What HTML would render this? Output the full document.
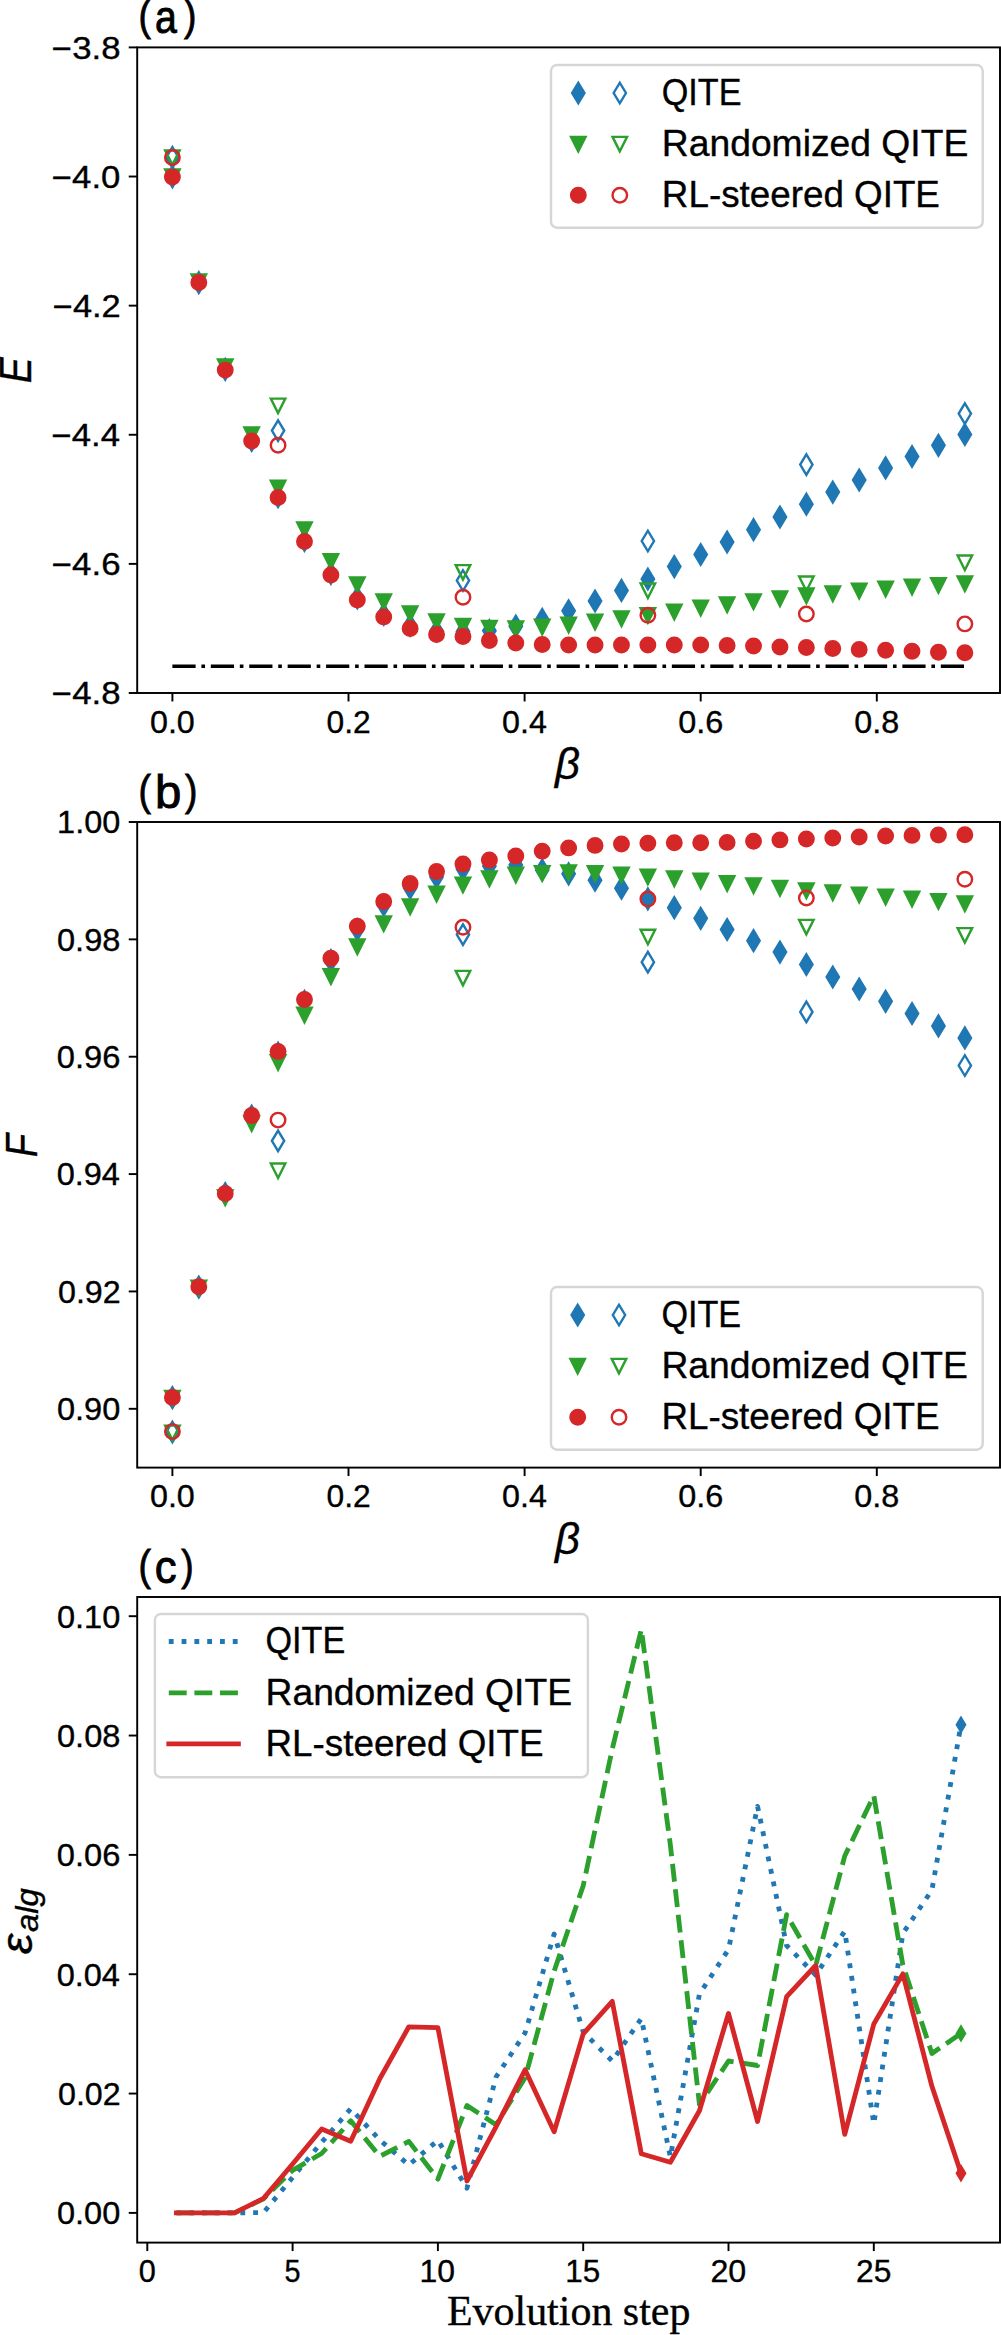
<!DOCTYPE html><html><head><meta charset="utf-8"><style>html,body{margin:0;padding:0;background:#fff;}svg{display:block;}</style></head><body>
<svg width="1001" height="2335" viewBox="0 0 1001 2335">
<style>text{stroke:#000;stroke-width:0.35px;}text.t{stroke-width:0.9px;}</style>
<rect width="1001" height="2335" fill="#fff"/>
<clipPath id="c0"><rect x="137.2" y="47.4" width="862.8" height="645.6"/></clipPath>
<clipPath id="c1"><rect x="137.2" y="822" width="862.8" height="645.6"/></clipPath>
<clipPath id="c2"><rect x="137.2" y="1597" width="862.8" height="645.6"/></clipPath>
<line x1="172.4" y1="666.2" x2="964.85" y2="666.2" stroke="#000" stroke-width="3.62" stroke-dasharray="23.2,5.8,3.62,5.8"/>
<g clip-path="url(#c0)">
<path d="M172.4 166.55L178.55 176.8L172.4 187.05L166.25 176.8Z" fill="#1f77b4" stroke="#1f77b4" stroke-width="2.42" stroke-linejoin="miter"/>
<path d="M198.81 272.35L204.97 282.6L198.81 292.85L192.66 282.6Z" fill="#1f77b4" stroke="#1f77b4" stroke-width="2.42" stroke-linejoin="miter"/>
<path d="M225.23 359.05L231.38 369.3L225.23 379.55L219.08 369.3Z" fill="#1f77b4" stroke="#1f77b4" stroke-width="2.42" stroke-linejoin="miter"/>
<path d="M251.64 430.15L257.8 440.4L251.64 450.65L245.49 440.4Z" fill="#1f77b4" stroke="#1f77b4" stroke-width="2.42" stroke-linejoin="miter"/>
<path d="M278.06 486.45L284.21 496.7L278.06 506.95L271.91 496.7Z" fill="#1f77b4" stroke="#1f77b4" stroke-width="2.42" stroke-linejoin="miter"/>
<path d="M304.48 530.25L310.63 540.5L304.48 550.75L298.32 540.5Z" fill="#1f77b4" stroke="#1f77b4" stroke-width="2.42" stroke-linejoin="miter"/>
<path d="M330.89 563.15L337.04 573.4L330.89 583.65L324.74 573.4Z" fill="#1f77b4" stroke="#1f77b4" stroke-width="2.42" stroke-linejoin="miter"/>
<path d="M357.31 587.55L363.46 597.8L357.31 608.05L351.15 597.8Z" fill="#1f77b4" stroke="#1f77b4" stroke-width="2.42" stroke-linejoin="miter"/>
<path d="M383.72 604.15L389.87 614.4L383.72 624.65L377.57 614.4Z" fill="#1f77b4" stroke="#1f77b4" stroke-width="2.42" stroke-linejoin="miter"/>
<path d="M410.13 615.15L416.29 625.4L410.13 635.65L403.98 625.4Z" fill="#1f77b4" stroke="#1f77b4" stroke-width="2.42" stroke-linejoin="miter"/>
<path d="M436.55 620.65L442.7 630.9L436.55 641.15L430.4 630.9Z" fill="#1f77b4" stroke="#1f77b4" stroke-width="2.42" stroke-linejoin="miter"/>
<path d="M462.97 621.25L469.12 631.5L462.97 641.75L456.81 631.5Z" fill="#1f77b4" stroke="#1f77b4" stroke-width="2.42" stroke-linejoin="miter"/>
<path d="M489.38 620.45L495.53 630.7L489.38 640.95L483.23 630.7Z" fill="#1f77b4" stroke="#1f77b4" stroke-width="2.42" stroke-linejoin="miter"/>
<path d="M515.8 615.95L521.95 626.2L515.8 636.45L509.64 626.2Z" fill="#1f77b4" stroke="#1f77b4" stroke-width="2.42" stroke-linejoin="miter"/>
<path d="M542.21 609.15L548.36 619.4L542.21 629.65L536.06 619.4Z" fill="#1f77b4" stroke="#1f77b4" stroke-width="2.42" stroke-linejoin="miter"/>
<path d="M568.62 600.55L574.78 610.8L568.62 621.05L562.47 610.8Z" fill="#1f77b4" stroke="#1f77b4" stroke-width="2.42" stroke-linejoin="miter"/>
<path d="M595.04 590.75L601.19 601L595.04 611.25L588.89 601Z" fill="#1f77b4" stroke="#1f77b4" stroke-width="2.42" stroke-linejoin="miter"/>
<path d="M621.46 580.15L627.61 590.4L621.46 600.65L615.3 590.4Z" fill="#1f77b4" stroke="#1f77b4" stroke-width="2.42" stroke-linejoin="miter"/>
<path d="M647.87 568.75L654.02 579L647.87 589.25L641.72 579Z" fill="#1f77b4" stroke="#1f77b4" stroke-width="2.42" stroke-linejoin="miter"/>
<path d="M674.28 556.35L680.44 566.6L674.28 576.85L668.13 566.6Z" fill="#1f77b4" stroke="#1f77b4" stroke-width="2.42" stroke-linejoin="miter"/>
<path d="M700.7 544.25L706.85 554.5L700.7 564.75L694.55 554.5Z" fill="#1f77b4" stroke="#1f77b4" stroke-width="2.42" stroke-linejoin="miter"/>
<path d="M727.12 531.75L733.27 542L727.12 552.25L720.96 542Z" fill="#1f77b4" stroke="#1f77b4" stroke-width="2.42" stroke-linejoin="miter"/>
<path d="M753.53 519.45L759.68 529.7L753.53 539.95L747.38 529.7Z" fill="#1f77b4" stroke="#1f77b4" stroke-width="2.42" stroke-linejoin="miter"/>
<path d="M779.94 506.75L786.1 517L779.94 527.25L773.79 517Z" fill="#1f77b4" stroke="#1f77b4" stroke-width="2.42" stroke-linejoin="miter"/>
<path d="M806.36 493.95L812.51 504.2L806.36 514.45L800.21 504.2Z" fill="#1f77b4" stroke="#1f77b4" stroke-width="2.42" stroke-linejoin="miter"/>
<path d="M832.77 481.85L838.93 492.1L832.77 502.35L826.62 492.1Z" fill="#1f77b4" stroke="#1f77b4" stroke-width="2.42" stroke-linejoin="miter"/>
<path d="M859.19 469.75L865.34 480L859.19 490.25L853.04 480Z" fill="#1f77b4" stroke="#1f77b4" stroke-width="2.42" stroke-linejoin="miter"/>
<path d="M885.61 457.65L891.76 467.9L885.61 478.15L879.45 467.9Z" fill="#1f77b4" stroke="#1f77b4" stroke-width="2.42" stroke-linejoin="miter"/>
<path d="M912.02 446.25L918.17 456.5L912.02 466.75L905.87 456.5Z" fill="#1f77b4" stroke="#1f77b4" stroke-width="2.42" stroke-linejoin="miter"/>
<path d="M938.43 435.05L944.59 445.3L938.43 455.55L932.28 445.3Z" fill="#1f77b4" stroke="#1f77b4" stroke-width="2.42" stroke-linejoin="miter"/>
<path d="M964.85 424.25L971 434.5L964.85 444.75L958.7 434.5Z" fill="#1f77b4" stroke="#1f77b4" stroke-width="2.42" stroke-linejoin="miter"/>
<path d="M172.4 183.95L165.15 169.45L179.65 169.45Z" fill="#2ca02c" stroke="#2ca02c" stroke-width="2.42" stroke-linejoin="miter"/>
<path d="M198.81 288.85L191.56 274.35L206.06 274.35Z" fill="#2ca02c" stroke="#2ca02c" stroke-width="2.42" stroke-linejoin="miter"/>
<path d="M225.23 374.05L217.98 359.55L232.48 359.55Z" fill="#2ca02c" stroke="#2ca02c" stroke-width="2.42" stroke-linejoin="miter"/>
<path d="M251.64 442.05L244.39 427.55L258.89 427.55Z" fill="#2ca02c" stroke="#2ca02c" stroke-width="2.42" stroke-linejoin="miter"/>
<path d="M278.06 495.25L270.81 480.75L285.31 480.75Z" fill="#2ca02c" stroke="#2ca02c" stroke-width="2.42" stroke-linejoin="miter"/>
<path d="M304.48 536.85L297.23 522.35L311.73 522.35Z" fill="#2ca02c" stroke="#2ca02c" stroke-width="2.42" stroke-linejoin="miter"/>
<path d="M330.89 568.65L323.64 554.15L338.14 554.15Z" fill="#2ca02c" stroke="#2ca02c" stroke-width="2.42" stroke-linejoin="miter"/>
<path d="M357.31 592.05L350.06 577.55L364.56 577.55Z" fill="#2ca02c" stroke="#2ca02c" stroke-width="2.42" stroke-linejoin="miter"/>
<path d="M383.72 609.05L376.47 594.55L390.97 594.55Z" fill="#2ca02c" stroke="#2ca02c" stroke-width="2.42" stroke-linejoin="miter"/>
<path d="M410.13 621.05L402.88 606.55L417.38 606.55Z" fill="#2ca02c" stroke="#2ca02c" stroke-width="2.42" stroke-linejoin="miter"/>
<path d="M436.55 629.05L429.3 614.55L443.8 614.55Z" fill="#2ca02c" stroke="#2ca02c" stroke-width="2.42" stroke-linejoin="miter"/>
<path d="M462.97 633.45L455.72 618.95L470.22 618.95Z" fill="#2ca02c" stroke="#2ca02c" stroke-width="2.42" stroke-linejoin="miter"/>
<path d="M489.38 635.45L482.13 620.95L496.63 620.95Z" fill="#2ca02c" stroke="#2ca02c" stroke-width="2.42" stroke-linejoin="miter"/>
<path d="M515.8 635.95L508.55 621.45L523.05 621.45Z" fill="#2ca02c" stroke="#2ca02c" stroke-width="2.42" stroke-linejoin="miter"/>
<path d="M542.21 634.25L534.96 619.75L549.46 619.75Z" fill="#2ca02c" stroke="#2ca02c" stroke-width="2.42" stroke-linejoin="miter"/>
<path d="M568.62 632.25L561.38 617.75L575.88 617.75Z" fill="#2ca02c" stroke="#2ca02c" stroke-width="2.42" stroke-linejoin="miter"/>
<path d="M595.04 629.25L587.79 614.75L602.29 614.75Z" fill="#2ca02c" stroke="#2ca02c" stroke-width="2.42" stroke-linejoin="miter"/>
<path d="M621.46 626.05L614.21 611.55L628.71 611.55Z" fill="#2ca02c" stroke="#2ca02c" stroke-width="2.42" stroke-linejoin="miter"/>
<path d="M647.87 622.65L640.62 608.15L655.12 608.15Z" fill="#2ca02c" stroke="#2ca02c" stroke-width="2.42" stroke-linejoin="miter"/>
<path d="M674.28 619.25L667.03 604.75L681.53 604.75Z" fill="#2ca02c" stroke="#2ca02c" stroke-width="2.42" stroke-linejoin="miter"/>
<path d="M700.7 615.25L693.45 600.75L707.95 600.75Z" fill="#2ca02c" stroke="#2ca02c" stroke-width="2.42" stroke-linejoin="miter"/>
<path d="M727.12 612.05L719.87 597.55L734.37 597.55Z" fill="#2ca02c" stroke="#2ca02c" stroke-width="2.42" stroke-linejoin="miter"/>
<path d="M753.53 608.85L746.28 594.35L760.78 594.35Z" fill="#2ca02c" stroke="#2ca02c" stroke-width="2.42" stroke-linejoin="miter"/>
<path d="M779.94 606.05L772.69 591.55L787.19 591.55Z" fill="#2ca02c" stroke="#2ca02c" stroke-width="2.42" stroke-linejoin="miter"/>
<path d="M806.36 603.05L799.11 588.55L813.61 588.55Z" fill="#2ca02c" stroke="#2ca02c" stroke-width="2.42" stroke-linejoin="miter"/>
<path d="M832.77 601.05L825.52 586.55L840.02 586.55Z" fill="#2ca02c" stroke="#2ca02c" stroke-width="2.42" stroke-linejoin="miter"/>
<path d="M859.19 598.25L851.94 583.75L866.44 583.75Z" fill="#2ca02c" stroke="#2ca02c" stroke-width="2.42" stroke-linejoin="miter"/>
<path d="M885.61 596.25L878.36 581.75L892.86 581.75Z" fill="#2ca02c" stroke="#2ca02c" stroke-width="2.42" stroke-linejoin="miter"/>
<path d="M912.02 594.25L904.77 579.75L919.27 579.75Z" fill="#2ca02c" stroke="#2ca02c" stroke-width="2.42" stroke-linejoin="miter"/>
<path d="M938.43 592.65L931.18 578.15L945.68 578.15Z" fill="#2ca02c" stroke="#2ca02c" stroke-width="2.42" stroke-linejoin="miter"/>
<path d="M964.85 591.05L957.6 576.55L972.1 576.55Z" fill="#2ca02c" stroke="#2ca02c" stroke-width="2.42" stroke-linejoin="miter"/>
<circle cx="172.4" cy="177" r="7.25" fill="#d62728" stroke="#d62728" stroke-width="2.42"/>
<circle cx="198.81" cy="282.5" r="7.25" fill="#d62728" stroke="#d62728" stroke-width="2.42"/>
<circle cx="225.23" cy="370.1" r="7.25" fill="#d62728" stroke="#d62728" stroke-width="2.42"/>
<circle cx="251.64" cy="440.9" r="7.25" fill="#d62728" stroke="#d62728" stroke-width="2.42"/>
<circle cx="278.06" cy="497.4" r="7.25" fill="#d62728" stroke="#d62728" stroke-width="2.42"/>
<circle cx="304.48" cy="541.4" r="7.25" fill="#d62728" stroke="#d62728" stroke-width="2.42"/>
<circle cx="330.89" cy="574.9" r="7.25" fill="#d62728" stroke="#d62728" stroke-width="2.42"/>
<circle cx="357.31" cy="599.9" r="7.25" fill="#d62728" stroke="#d62728" stroke-width="2.42"/>
<circle cx="383.72" cy="616.9" r="7.25" fill="#d62728" stroke="#d62728" stroke-width="2.42"/>
<circle cx="410.13" cy="628.5" r="7.25" fill="#d62728" stroke="#d62728" stroke-width="2.42"/>
<circle cx="436.55" cy="634.5" r="7.25" fill="#d62728" stroke="#d62728" stroke-width="2.42"/>
<circle cx="462.97" cy="636.5" r="7.25" fill="#d62728" stroke="#d62728" stroke-width="2.42"/>
<circle cx="489.38" cy="640.5" r="7.25" fill="#d62728" stroke="#d62728" stroke-width="2.42"/>
<circle cx="515.8" cy="643" r="7.25" fill="#d62728" stroke="#d62728" stroke-width="2.42"/>
<circle cx="542.21" cy="644.5" r="7.25" fill="#d62728" stroke="#d62728" stroke-width="2.42"/>
<circle cx="568.62" cy="645" r="7.25" fill="#d62728" stroke="#d62728" stroke-width="2.42"/>
<circle cx="595.04" cy="645" r="7.25" fill="#d62728" stroke="#d62728" stroke-width="2.42"/>
<circle cx="621.46" cy="645" r="7.25" fill="#d62728" stroke="#d62728" stroke-width="2.42"/>
<circle cx="647.87" cy="645" r="7.25" fill="#d62728" stroke="#d62728" stroke-width="2.42"/>
<circle cx="674.28" cy="645" r="7.25" fill="#d62728" stroke="#d62728" stroke-width="2.42"/>
<circle cx="700.7" cy="645" r="7.25" fill="#d62728" stroke="#d62728" stroke-width="2.42"/>
<circle cx="727.12" cy="645.5" r="7.25" fill="#d62728" stroke="#d62728" stroke-width="2.42"/>
<circle cx="753.53" cy="646" r="7.25" fill="#d62728" stroke="#d62728" stroke-width="2.42"/>
<circle cx="779.94" cy="647" r="7.25" fill="#d62728" stroke="#d62728" stroke-width="2.42"/>
<circle cx="806.36" cy="647.5" r="7.25" fill="#d62728" stroke="#d62728" stroke-width="2.42"/>
<circle cx="832.77" cy="648.5" r="7.25" fill="#d62728" stroke="#d62728" stroke-width="2.42"/>
<circle cx="859.19" cy="649.4" r="7.25" fill="#d62728" stroke="#d62728" stroke-width="2.42"/>
<circle cx="885.61" cy="650.3" r="7.25" fill="#d62728" stroke="#d62728" stroke-width="2.42"/>
<circle cx="912.02" cy="651.2" r="7.25" fill="#d62728" stroke="#d62728" stroke-width="2.42"/>
<circle cx="938.43" cy="652.2" r="7.25" fill="#d62728" stroke="#d62728" stroke-width="2.42"/>
<circle cx="964.85" cy="652.8" r="7.25" fill="#d62728" stroke="#d62728" stroke-width="2.42"/>
<path d="M172.4 147.15L178.55 157.4L172.4 167.65L166.25 157.4Z" fill="none" stroke="#1f77b4" stroke-width="2.42" stroke-linejoin="miter"/>
<path d="M278.06 420.35L284.21 430.6L278.06 440.85L271.91 430.6Z" fill="none" stroke="#1f77b4" stroke-width="2.42" stroke-linejoin="miter"/>
<path d="M462.97 570.25L469.12 580.5L462.97 590.75L456.81 580.5Z" fill="none" stroke="#1f77b4" stroke-width="2.42" stroke-linejoin="miter"/>
<path d="M647.87 530.75L654.02 541L647.87 551.25L641.72 541Z" fill="none" stroke="#1f77b4" stroke-width="2.42" stroke-linejoin="miter"/>
<path d="M806.36 454.35L812.51 464.6L806.36 474.85L800.21 464.6Z" fill="none" stroke="#1f77b4" stroke-width="2.42" stroke-linejoin="miter"/>
<path d="M964.85 403.35L971 413.6L964.85 423.85L958.7 413.6Z" fill="none" stroke="#1f77b4" stroke-width="2.42" stroke-linejoin="miter"/>
<path d="M172.4 164.85L165.15 150.35L179.65 150.35Z" fill="none" stroke="#2ca02c" stroke-width="2.42" stroke-linejoin="miter"/>
<path d="M278.06 413.15L270.81 398.65L285.31 398.65Z" fill="none" stroke="#2ca02c" stroke-width="2.42" stroke-linejoin="miter"/>
<path d="M462.97 579.65L455.72 565.15L470.22 565.15Z" fill="none" stroke="#2ca02c" stroke-width="2.42" stroke-linejoin="miter"/>
<path d="M647.87 598.05L640.62 583.55L655.12 583.55Z" fill="none" stroke="#2ca02c" stroke-width="2.42" stroke-linejoin="miter"/>
<path d="M806.36 591.05L799.11 576.55L813.61 576.55Z" fill="none" stroke="#2ca02c" stroke-width="2.42" stroke-linejoin="miter"/>
<path d="M964.85 570.05L957.6 555.55L972.1 555.55Z" fill="none" stroke="#2ca02c" stroke-width="2.42" stroke-linejoin="miter"/>
<circle cx="172.4" cy="157.5" r="7.25" fill="none" stroke="#d62728" stroke-width="2.42"/>
<circle cx="278.06" cy="445.3" r="7.25" fill="none" stroke="#d62728" stroke-width="2.42"/>
<circle cx="462.97" cy="597.3" r="7.25" fill="none" stroke="#d62728" stroke-width="2.42"/>
<circle cx="647.87" cy="615.3" r="7.25" fill="none" stroke="#d62728" stroke-width="2.42"/>
<circle cx="806.36" cy="614" r="7.25" fill="none" stroke="#d62728" stroke-width="2.42"/>
<circle cx="964.85" cy="623.9" r="7.25" fill="none" stroke="#d62728" stroke-width="2.42"/>
</g>
<g clip-path="url(#c1)">
<path d="M172.4 1387.45L178.55 1397.7L172.4 1407.95L166.25 1397.7Z" fill="#1f77b4" stroke="#1f77b4" stroke-width="2.42" stroke-linejoin="miter"/>
<path d="M198.81 1276.85L204.97 1287.1L198.81 1297.35L192.66 1287.1Z" fill="#1f77b4" stroke="#1f77b4" stroke-width="2.42" stroke-linejoin="miter"/>
<path d="M225.23 1183.45L231.38 1193.7L225.23 1203.95L219.08 1193.7Z" fill="#1f77b4" stroke="#1f77b4" stroke-width="2.42" stroke-linejoin="miter"/>
<path d="M251.64 1105.75L257.8 1116L251.64 1126.25L245.49 1116Z" fill="#1f77b4" stroke="#1f77b4" stroke-width="2.42" stroke-linejoin="miter"/>
<path d="M278.06 1042.85L284.21 1053.1L278.06 1063.35L271.91 1053.1Z" fill="#1f77b4" stroke="#1f77b4" stroke-width="2.42" stroke-linejoin="miter"/>
<path d="M304.48 991.15L310.63 1001.4L304.48 1011.65L298.32 1001.4Z" fill="#1f77b4" stroke="#1f77b4" stroke-width="2.42" stroke-linejoin="miter"/>
<path d="M330.89 950.45L337.04 960.7L330.89 970.95L324.74 960.7Z" fill="#1f77b4" stroke="#1f77b4" stroke-width="2.42" stroke-linejoin="miter"/>
<path d="M357.31 919.25L363.46 929.5L357.31 939.75L351.15 929.5Z" fill="#1f77b4" stroke="#1f77b4" stroke-width="2.42" stroke-linejoin="miter"/>
<path d="M383.72 894.75L389.87 905L383.72 915.25L377.57 905Z" fill="#1f77b4" stroke="#1f77b4" stroke-width="2.42" stroke-linejoin="miter"/>
<path d="M410.13 877.75L416.29 888L410.13 898.25L403.98 888Z" fill="#1f77b4" stroke="#1f77b4" stroke-width="2.42" stroke-linejoin="miter"/>
<path d="M436.55 866.75L442.7 877L436.55 887.25L430.4 877Z" fill="#1f77b4" stroke="#1f77b4" stroke-width="2.42" stroke-linejoin="miter"/>
<path d="M462.97 858.75L469.12 869L462.97 879.25L456.81 869Z" fill="#1f77b4" stroke="#1f77b4" stroke-width="2.42" stroke-linejoin="miter"/>
<path d="M489.38 855.75L495.53 866L489.38 876.25L483.23 866Z" fill="#1f77b4" stroke="#1f77b4" stroke-width="2.42" stroke-linejoin="miter"/>
<path d="M515.8 854.75L521.95 865L515.8 875.25L509.64 865Z" fill="#1f77b4" stroke="#1f77b4" stroke-width="2.42" stroke-linejoin="miter"/>
<path d="M542.21 859.75L548.36 870L542.21 880.25L536.06 870Z" fill="#1f77b4" stroke="#1f77b4" stroke-width="2.42" stroke-linejoin="miter"/>
<path d="M568.62 863.55L574.78 873.8L568.62 884.05L562.47 873.8Z" fill="#1f77b4" stroke="#1f77b4" stroke-width="2.42" stroke-linejoin="miter"/>
<path d="M595.04 869.95L601.19 880.2L595.04 890.45L588.89 880.2Z" fill="#1f77b4" stroke="#1f77b4" stroke-width="2.42" stroke-linejoin="miter"/>
<path d="M621.46 877.95L627.61 888.2L621.46 898.45L615.3 888.2Z" fill="#1f77b4" stroke="#1f77b4" stroke-width="2.42" stroke-linejoin="miter"/>
<path d="M647.87 888.55L654.02 898.8L647.87 909.05L641.72 898.8Z" fill="#1f77b4" stroke="#1f77b4" stroke-width="2.42" stroke-linejoin="miter"/>
<path d="M674.28 897.45L680.44 907.7L674.28 917.95L668.13 907.7Z" fill="#1f77b4" stroke="#1f77b4" stroke-width="2.42" stroke-linejoin="miter"/>
<path d="M700.7 908.05L706.85 918.3L700.7 928.55L694.55 918.3Z" fill="#1f77b4" stroke="#1f77b4" stroke-width="2.42" stroke-linejoin="miter"/>
<path d="M727.12 919.25L733.27 929.5L727.12 939.75L720.96 929.5Z" fill="#1f77b4" stroke="#1f77b4" stroke-width="2.42" stroke-linejoin="miter"/>
<path d="M753.53 930.45L759.68 940.7L753.53 950.95L747.38 940.7Z" fill="#1f77b4" stroke="#1f77b4" stroke-width="2.42" stroke-linejoin="miter"/>
<path d="M779.94 941.85L786.1 952.1L779.94 962.35L773.79 952.1Z" fill="#1f77b4" stroke="#1f77b4" stroke-width="2.42" stroke-linejoin="miter"/>
<path d="M806.36 954.25L812.51 964.5L806.36 974.75L800.21 964.5Z" fill="#1f77b4" stroke="#1f77b4" stroke-width="2.42" stroke-linejoin="miter"/>
<path d="M832.77 966.75L838.93 977L832.77 987.25L826.62 977Z" fill="#1f77b4" stroke="#1f77b4" stroke-width="2.42" stroke-linejoin="miter"/>
<path d="M859.19 978.75L865.34 989L859.19 999.25L853.04 989Z" fill="#1f77b4" stroke="#1f77b4" stroke-width="2.42" stroke-linejoin="miter"/>
<path d="M885.61 991.05L891.76 1001.3L885.61 1011.55L879.45 1001.3Z" fill="#1f77b4" stroke="#1f77b4" stroke-width="2.42" stroke-linejoin="miter"/>
<path d="M912.02 1003.25L918.17 1013.5L912.02 1023.75L905.87 1013.5Z" fill="#1f77b4" stroke="#1f77b4" stroke-width="2.42" stroke-linejoin="miter"/>
<path d="M938.43 1015.65L944.59 1025.9L938.43 1036.15L932.28 1025.9Z" fill="#1f77b4" stroke="#1f77b4" stroke-width="2.42" stroke-linejoin="miter"/>
<path d="M964.85 1027.65L971 1037.9L964.85 1048.15L958.7 1037.9Z" fill="#1f77b4" stroke="#1f77b4" stroke-width="2.42" stroke-linejoin="miter"/>
<path d="M172.4 1405.35L165.15 1390.85L179.65 1390.85Z" fill="#2ca02c" stroke="#2ca02c" stroke-width="2.42" stroke-linejoin="miter"/>
<path d="M198.81 1295.25L191.56 1280.75L206.06 1280.75Z" fill="#2ca02c" stroke="#2ca02c" stroke-width="2.42" stroke-linejoin="miter"/>
<path d="M225.23 1204.85L217.98 1190.35L232.48 1190.35Z" fill="#2ca02c" stroke="#2ca02c" stroke-width="2.42" stroke-linejoin="miter"/>
<path d="M251.64 1130.75L244.39 1116.25L258.89 1116.25Z" fill="#2ca02c" stroke="#2ca02c" stroke-width="2.42" stroke-linejoin="miter"/>
<path d="M278.06 1069.75L270.81 1055.25L285.31 1055.25Z" fill="#2ca02c" stroke="#2ca02c" stroke-width="2.42" stroke-linejoin="miter"/>
<path d="M304.48 1022.25L297.23 1007.75L311.73 1007.75Z" fill="#2ca02c" stroke="#2ca02c" stroke-width="2.42" stroke-linejoin="miter"/>
<path d="M330.89 983.75L323.64 969.25L338.14 969.25Z" fill="#2ca02c" stroke="#2ca02c" stroke-width="2.42" stroke-linejoin="miter"/>
<path d="M357.31 954.05L350.06 939.55L364.56 939.55Z" fill="#2ca02c" stroke="#2ca02c" stroke-width="2.42" stroke-linejoin="miter"/>
<path d="M383.72 930.85L376.47 916.35L390.97 916.35Z" fill="#2ca02c" stroke="#2ca02c" stroke-width="2.42" stroke-linejoin="miter"/>
<path d="M410.13 913.95L402.88 899.45L417.38 899.45Z" fill="#2ca02c" stroke="#2ca02c" stroke-width="2.42" stroke-linejoin="miter"/>
<path d="M436.55 901.25L429.3 886.75L443.8 886.75Z" fill="#2ca02c" stroke="#2ca02c" stroke-width="2.42" stroke-linejoin="miter"/>
<path d="M462.97 892.15L455.72 877.65L470.22 877.65Z" fill="#2ca02c" stroke="#2ca02c" stroke-width="2.42" stroke-linejoin="miter"/>
<path d="M489.38 886.05L482.13 871.55L496.63 871.55Z" fill="#2ca02c" stroke="#2ca02c" stroke-width="2.42" stroke-linejoin="miter"/>
<path d="M515.8 882.25L508.55 867.75L523.05 867.75Z" fill="#2ca02c" stroke="#2ca02c" stroke-width="2.42" stroke-linejoin="miter"/>
<path d="M542.21 880.65L534.96 866.15L549.46 866.15Z" fill="#2ca02c" stroke="#2ca02c" stroke-width="2.42" stroke-linejoin="miter"/>
<path d="M568.62 879.95L561.38 865.45L575.88 865.45Z" fill="#2ca02c" stroke="#2ca02c" stroke-width="2.42" stroke-linejoin="miter"/>
<path d="M595.04 880.65L587.79 866.15L602.29 866.15Z" fill="#2ca02c" stroke="#2ca02c" stroke-width="2.42" stroke-linejoin="miter"/>
<path d="M621.46 882.15L614.21 867.65L628.71 867.65Z" fill="#2ca02c" stroke="#2ca02c" stroke-width="2.42" stroke-linejoin="miter"/>
<path d="M647.87 884.15L640.62 869.65L655.12 869.65Z" fill="#2ca02c" stroke="#2ca02c" stroke-width="2.42" stroke-linejoin="miter"/>
<path d="M674.28 886.05L667.03 871.55L681.53 871.55Z" fill="#2ca02c" stroke="#2ca02c" stroke-width="2.42" stroke-linejoin="miter"/>
<path d="M700.7 888.25L693.45 873.75L707.95 873.75Z" fill="#2ca02c" stroke="#2ca02c" stroke-width="2.42" stroke-linejoin="miter"/>
<path d="M727.12 890.75L719.87 876.25L734.37 876.25Z" fill="#2ca02c" stroke="#2ca02c" stroke-width="2.42" stroke-linejoin="miter"/>
<path d="M753.53 893.05L746.28 878.55L760.78 878.55Z" fill="#2ca02c" stroke="#2ca02c" stroke-width="2.42" stroke-linejoin="miter"/>
<path d="M779.94 895.45L772.69 880.95L787.19 880.95Z" fill="#2ca02c" stroke="#2ca02c" stroke-width="2.42" stroke-linejoin="miter"/>
<path d="M806.36 897.95L799.11 883.45L813.61 883.45Z" fill="#2ca02c" stroke="#2ca02c" stroke-width="2.42" stroke-linejoin="miter"/>
<path d="M832.77 900.05L825.52 885.55L840.02 885.55Z" fill="#2ca02c" stroke="#2ca02c" stroke-width="2.42" stroke-linejoin="miter"/>
<path d="M859.19 902.25L851.94 887.75L866.44 887.75Z" fill="#2ca02c" stroke="#2ca02c" stroke-width="2.42" stroke-linejoin="miter"/>
<path d="M885.61 904.25L878.36 889.75L892.86 889.75Z" fill="#2ca02c" stroke="#2ca02c" stroke-width="2.42" stroke-linejoin="miter"/>
<path d="M912.02 906.25L904.77 891.75L919.27 891.75Z" fill="#2ca02c" stroke="#2ca02c" stroke-width="2.42" stroke-linejoin="miter"/>
<path d="M938.43 908.65L931.18 894.15L945.68 894.15Z" fill="#2ca02c" stroke="#2ca02c" stroke-width="2.42" stroke-linejoin="miter"/>
<path d="M964.85 911.05L957.6 896.55L972.1 896.55Z" fill="#2ca02c" stroke="#2ca02c" stroke-width="2.42" stroke-linejoin="miter"/>
<circle cx="172.4" cy="1397.4" r="7.25" fill="#d62728" stroke="#d62728" stroke-width="2.42"/>
<circle cx="198.81" cy="1286.8" r="7.25" fill="#d62728" stroke="#d62728" stroke-width="2.42"/>
<circle cx="225.23" cy="1193.4" r="7.25" fill="#d62728" stroke="#d62728" stroke-width="2.42"/>
<circle cx="251.64" cy="1115.5" r="7.25" fill="#d62728" stroke="#d62728" stroke-width="2.42"/>
<circle cx="278.06" cy="1051.4" r="7.25" fill="#d62728" stroke="#d62728" stroke-width="2.42"/>
<circle cx="304.48" cy="999.5" r="7.25" fill="#d62728" stroke="#d62728" stroke-width="2.42"/>
<circle cx="330.89" cy="958.3" r="7.25" fill="#d62728" stroke="#d62728" stroke-width="2.42"/>
<circle cx="357.31" cy="926.2" r="7.25" fill="#d62728" stroke="#d62728" stroke-width="2.42"/>
<circle cx="383.72" cy="901.5" r="7.25" fill="#d62728" stroke="#d62728" stroke-width="2.42"/>
<circle cx="410.13" cy="883.5" r="7.25" fill="#d62728" stroke="#d62728" stroke-width="2.42"/>
<circle cx="436.55" cy="871.5" r="7.25" fill="#d62728" stroke="#d62728" stroke-width="2.42"/>
<circle cx="462.97" cy="864" r="7.25" fill="#d62728" stroke="#d62728" stroke-width="2.42"/>
<circle cx="489.38" cy="860" r="7.25" fill="#d62728" stroke="#d62728" stroke-width="2.42"/>
<circle cx="515.8" cy="855.9" r="7.25" fill="#d62728" stroke="#d62728" stroke-width="2.42"/>
<circle cx="542.21" cy="851.3" r="7.25" fill="#d62728" stroke="#d62728" stroke-width="2.42"/>
<circle cx="568.62" cy="847.9" r="7.25" fill="#d62728" stroke="#d62728" stroke-width="2.42"/>
<circle cx="595.04" cy="845.4" r="7.25" fill="#d62728" stroke="#d62728" stroke-width="2.42"/>
<circle cx="621.46" cy="844" r="7.25" fill="#d62728" stroke="#d62728" stroke-width="2.42"/>
<circle cx="647.87" cy="843.2" r="7.25" fill="#d62728" stroke="#d62728" stroke-width="2.42"/>
<circle cx="674.28" cy="842.8" r="7.25" fill="#d62728" stroke="#d62728" stroke-width="2.42"/>
<circle cx="700.7" cy="842.8" r="7.25" fill="#d62728" stroke="#d62728" stroke-width="2.42"/>
<circle cx="727.12" cy="842.4" r="7.25" fill="#d62728" stroke="#d62728" stroke-width="2.42"/>
<circle cx="753.53" cy="841.3" r="7.25" fill="#d62728" stroke="#d62728" stroke-width="2.42"/>
<circle cx="779.94" cy="839.9" r="7.25" fill="#d62728" stroke="#d62728" stroke-width="2.42"/>
<circle cx="806.36" cy="839" r="7.25" fill="#d62728" stroke="#d62728" stroke-width="2.42"/>
<circle cx="832.77" cy="838" r="7.25" fill="#d62728" stroke="#d62728" stroke-width="2.42"/>
<circle cx="859.19" cy="837" r="7.25" fill="#d62728" stroke="#d62728" stroke-width="2.42"/>
<circle cx="885.61" cy="836" r="7.25" fill="#d62728" stroke="#d62728" stroke-width="2.42"/>
<circle cx="912.02" cy="835.4" r="7.25" fill="#d62728" stroke="#d62728" stroke-width="2.42"/>
<circle cx="938.43" cy="835" r="7.25" fill="#d62728" stroke="#d62728" stroke-width="2.42"/>
<circle cx="964.85" cy="834.8" r="7.25" fill="#d62728" stroke="#d62728" stroke-width="2.42"/>
<path d="M172.4 1421.75L178.55 1432L172.4 1442.25L166.25 1432Z" fill="none" stroke="#1f77b4" stroke-width="2.42" stroke-linejoin="miter"/>
<path d="M278.06 1130.55L284.21 1140.8L278.06 1151.05L271.91 1140.8Z" fill="none" stroke="#1f77b4" stroke-width="2.42" stroke-linejoin="miter"/>
<path d="M462.97 924.35L469.12 934.6L462.97 944.85L456.81 934.6Z" fill="none" stroke="#1f77b4" stroke-width="2.42" stroke-linejoin="miter"/>
<path d="M647.87 951.95L654.02 962.2L647.87 972.45L641.72 962.2Z" fill="none" stroke="#1f77b4" stroke-width="2.42" stroke-linejoin="miter"/>
<path d="M806.36 1001.65L812.51 1011.9L806.36 1022.15L800.21 1011.9Z" fill="none" stroke="#1f77b4" stroke-width="2.42" stroke-linejoin="miter"/>
<path d="M964.85 1055.25L971 1065.5L964.85 1075.75L958.7 1065.5Z" fill="none" stroke="#1f77b4" stroke-width="2.42" stroke-linejoin="miter"/>
<path d="M172.4 1440.15L165.15 1425.65L179.65 1425.65Z" fill="none" stroke="#2ca02c" stroke-width="2.42" stroke-linejoin="miter"/>
<path d="M278.06 1178.05L270.81 1163.55L285.31 1163.55Z" fill="none" stroke="#2ca02c" stroke-width="2.42" stroke-linejoin="miter"/>
<path d="M462.97 985.35L455.72 970.85L470.22 970.85Z" fill="none" stroke="#2ca02c" stroke-width="2.42" stroke-linejoin="miter"/>
<path d="M647.87 944.25L640.62 929.75L655.12 929.75Z" fill="none" stroke="#2ca02c" stroke-width="2.42" stroke-linejoin="miter"/>
<path d="M806.36 934.35L799.11 919.85L813.61 919.85Z" fill="none" stroke="#2ca02c" stroke-width="2.42" stroke-linejoin="miter"/>
<path d="M964.85 942.65L957.6 928.15L972.1 928.15Z" fill="none" stroke="#2ca02c" stroke-width="2.42" stroke-linejoin="miter"/>
<circle cx="172.4" cy="1431.6" r="7.25" fill="none" stroke="#d62728" stroke-width="2.42"/>
<circle cx="278.06" cy="1120.1" r="7.25" fill="none" stroke="#d62728" stroke-width="2.42"/>
<circle cx="462.97" cy="927.2" r="7.25" fill="none" stroke="#d62728" stroke-width="2.42"/>
<circle cx="647.87" cy="899" r="7.25" fill="none" stroke="#d62728" stroke-width="2.42"/>
<circle cx="806.36" cy="898" r="7.25" fill="none" stroke="#d62728" stroke-width="2.42"/>
<circle cx="964.85" cy="879.2" r="7.25" fill="none" stroke="#d62728" stroke-width="2.42"/>
</g>
<g clip-path="url(#c2)">
<polyline points="176.36,2212.9 205.42,2212.9 234.48,2212.9 263.54,2212.6 292.6,2177.5 321.66,2142.3 350.72,2108.8 379.78,2140 408.84,2165 437.9,2140.3 466.96,2188.2 496.02,2077 525.08,2032.9 554.14,1934 583.2,2031.9 612.26,2061 641.32,2018.5 670.38,2157 699.44,1994 728.5,1949.5 757.56,1806.4 786.62,1945.5 815.68,1975.1 844.74,1931.2 873.8,2123.9 902.86,1933.5 931.92,1890 960.98,1724.8" fill="none" stroke="#1f77b4" stroke-width="4.83" stroke-linejoin="round" stroke-linecap="butt" stroke-dasharray="4.83,7.97"/>
<path d="M960.98 1717.96L965.08 1724.8L960.98 1731.64L956.88 1724.8Z" fill="#1f77b4" stroke="#1f77b4" stroke-width="2.42" stroke-linejoin="miter"/>
<polyline points="176.36,2212.9 205.42,2212.9 234.48,2212.9 263.54,2198.8 292.6,2170.3 321.66,2153.5 350.72,2120.8 379.78,2156.3 408.84,2141.4 437.9,2179.1 466.96,2105.6 496.02,2124.8 525.08,2077.8 554.14,1971.2 583.2,1885.7 612.26,1749 641.32,1629.5 670.38,1845 699.44,2104.5 728.5,2061 757.56,2065.5 786.62,1914.6 815.68,1965.5 844.74,1856 873.8,1795.6 902.86,1965.1 931.92,2053.5 960.98,2033.4" fill="none" stroke="#2ca02c" stroke-width="4.83" stroke-linejoin="round" stroke-linecap="butt" stroke-dasharray="17.88,7.73"/>
<path d="M960.98 2026.56L965.08 2033.4L960.98 2040.24L956.88 2033.4Z" fill="#2ca02c" stroke="#2ca02c" stroke-width="2.42" stroke-linejoin="miter"/>
<polyline points="176.36,2212.9 205.42,2212.9 234.48,2212.9 263.54,2198.4 292.6,2164 321.66,2129 350.72,2141.3 379.78,2078.7 408.84,2026.8 437.9,2027.6 466.96,2181 496.02,2126.8 525.08,2069.8 554.14,2131.8 583.2,2033.9 612.26,2001.4 641.32,2153.7 670.38,2162.3 699.44,2110.8 728.5,2013.5 757.56,2121.5 786.62,1996.7 815.68,1965.5 844.74,2134.3 873.8,2024 902.86,1973.9 931.92,2086.3 960.98,2173.2" fill="none" stroke="#d62728" stroke-width="4.83" stroke-linejoin="round" stroke-linecap="square"/>
<path d="M960.98 2166.36L965.08 2173.2L960.98 2180.04L956.88 2173.2Z" fill="#d62728" stroke="#d62728" stroke-width="2.42" stroke-linejoin="miter"/>
</g>
<rect x="137.2" y="47.4" width="862.8" height="645.6" fill="none" stroke="#000" stroke-width="1.93" stroke-linejoin="miter" stroke-linecap="square"/>
<line x1="128.74" y1="47.4" x2="137.2" y2="47.4" stroke="#000" stroke-width="1.93"/>
<text x="51.87" y="58.7" font-family="Liberation Sans" font-size="30.74" textLength="68.67" lengthAdjust="spacingAndGlyphs">−3.8</text>
<line x1="128.74" y1="176.52" x2="137.2" y2="176.52" stroke="#000" stroke-width="1.93"/>
<text x="51.8" y="187.82" font-family="Liberation Sans" font-size="30.74" textLength="68.56" lengthAdjust="spacingAndGlyphs">−4.0</text>
<line x1="128.74" y1="305.64" x2="137.2" y2="305.64" stroke="#000" stroke-width="1.93"/>
<text x="52.83" y="316.94" font-family="Liberation Sans" font-size="30.74" textLength="67.95" lengthAdjust="spacingAndGlyphs">−4.2</text>
<line x1="128.74" y1="434.76" x2="137.2" y2="434.76" stroke="#000" stroke-width="1.93"/>
<text x="51.51" y="446.06" font-family="Liberation Sans" font-size="30.74" textLength="68.51" lengthAdjust="spacingAndGlyphs">−4.4</text>
<line x1="128.74" y1="563.88" x2="137.2" y2="563.88" stroke="#000" stroke-width="1.93"/>
<text x="51.72" y="575.18" font-family="Liberation Sans" font-size="30.74" textLength="68.82" lengthAdjust="spacingAndGlyphs">−4.6</text>
<line x1="128.74" y1="693" x2="137.2" y2="693" stroke="#000" stroke-width="1.93"/>
<text x="51.87" y="704.3" font-family="Liberation Sans" font-size="30.74" textLength="68.67" lengthAdjust="spacingAndGlyphs">−4.8</text>
<line x1="172.4" y1="693" x2="172.4" y2="701.46" stroke="#000" stroke-width="1.93"/>
<text x="149.94" y="732.5" font-family="Liberation Sans" font-size="30.74" textLength="44.85" lengthAdjust="spacingAndGlyphs">0.0</text>
<line x1="348.5" y1="693" x2="348.5" y2="701.46" stroke="#000" stroke-width="1.93"/>
<text x="326.57" y="732.5" font-family="Liberation Sans" font-size="30.74" textLength="44.19" lengthAdjust="spacingAndGlyphs">0.2</text>
<line x1="524.6" y1="693" x2="524.6" y2="701.46" stroke="#000" stroke-width="1.93"/>
<text x="502" y="732.5" font-family="Liberation Sans" font-size="30.74" textLength="44.81" lengthAdjust="spacingAndGlyphs">0.4</text>
<line x1="700.7" y1="693" x2="700.7" y2="701.46" stroke="#000" stroke-width="1.93"/>
<text x="678.2" y="732.5" font-family="Liberation Sans" font-size="30.74" textLength="45.09" lengthAdjust="spacingAndGlyphs">0.6</text>
<line x1="876.8" y1="693" x2="876.8" y2="701.46" stroke="#000" stroke-width="1.93"/>
<text x="854.37" y="732.5" font-family="Liberation Sans" font-size="30.74" textLength="44.94" lengthAdjust="spacingAndGlyphs">0.8</text>
<text class="t" transform="matrix(1,0,0,0.91,0,29.94)" x="138.57" y="0" font-family="Liberation Sans" font-size="45.68" textLength="12.42" lengthAdjust="spacingAndGlyphs">(</text><text class="t" transform="matrix(1,0,0,1,0,33.1)" x="155.11" y="0" font-family="Liberation Sans" font-size="45.68" textLength="21.83" lengthAdjust="spacingAndGlyphs">a</text><text class="t" transform="matrix(1,0,0,0.91,0,29.94)" x="184.03" y="0" font-family="Liberation Sans" font-size="45.68" textLength="12.42" lengthAdjust="spacingAndGlyphs">)</text>
<rect x="137.2" y="822" width="862.8" height="645.6" fill="none" stroke="#000" stroke-width="1.93" stroke-linejoin="miter" stroke-linecap="square"/>
<line x1="128.74" y1="822" x2="137.2" y2="822" stroke="#000" stroke-width="1.93"/>
<text x="57.12" y="833.3" font-family="Liberation Sans" font-size="30.74" textLength="63.14" lengthAdjust="spacingAndGlyphs">1.00</text>
<line x1="128.74" y1="939.36" x2="137.2" y2="939.36" stroke="#000" stroke-width="1.93"/>
<text x="57.01" y="950.66" font-family="Liberation Sans" font-size="30.74" textLength="63.41" lengthAdjust="spacingAndGlyphs">0.98</text>
<line x1="128.74" y1="1056.72" x2="137.2" y2="1056.72" stroke="#000" stroke-width="1.93"/>
<text x="56.87" y="1068.02" font-family="Liberation Sans" font-size="30.74" textLength="63.57" lengthAdjust="spacingAndGlyphs">0.96</text>
<line x1="128.74" y1="1174.08" x2="137.2" y2="1174.08" stroke="#000" stroke-width="1.93"/>
<text x="56.65" y="1185.38" font-family="Liberation Sans" font-size="30.74" textLength="63.28" lengthAdjust="spacingAndGlyphs">0.94</text>
<line x1="128.74" y1="1291.44" x2="137.2" y2="1291.44" stroke="#000" stroke-width="1.93"/>
<text x="57.97" y="1302.74" font-family="Liberation Sans" font-size="30.74" textLength="62.68" lengthAdjust="spacingAndGlyphs">0.92</text>
<line x1="128.74" y1="1408.8" x2="137.2" y2="1408.8" stroke="#000" stroke-width="1.93"/>
<text x="56.94" y="1420.1" font-family="Liberation Sans" font-size="30.74" textLength="63.32" lengthAdjust="spacingAndGlyphs">0.90</text>
<line x1="172.4" y1="1467.6" x2="172.4" y2="1476.06" stroke="#000" stroke-width="1.93"/>
<text x="149.94" y="1507.1" font-family="Liberation Sans" font-size="30.74" textLength="44.85" lengthAdjust="spacingAndGlyphs">0.0</text>
<line x1="348.5" y1="1467.6" x2="348.5" y2="1476.06" stroke="#000" stroke-width="1.93"/>
<text x="326.57" y="1507.1" font-family="Liberation Sans" font-size="30.74" textLength="44.19" lengthAdjust="spacingAndGlyphs">0.2</text>
<line x1="524.6" y1="1467.6" x2="524.6" y2="1476.06" stroke="#000" stroke-width="1.93"/>
<text x="502" y="1507.1" font-family="Liberation Sans" font-size="30.74" textLength="44.81" lengthAdjust="spacingAndGlyphs">0.4</text>
<line x1="700.7" y1="1467.6" x2="700.7" y2="1476.06" stroke="#000" stroke-width="1.93"/>
<text x="678.2" y="1507.1" font-family="Liberation Sans" font-size="30.74" textLength="45.09" lengthAdjust="spacingAndGlyphs">0.6</text>
<line x1="876.8" y1="1467.6" x2="876.8" y2="1476.06" stroke="#000" stroke-width="1.93"/>
<text x="854.37" y="1507.1" font-family="Liberation Sans" font-size="30.74" textLength="44.94" lengthAdjust="spacingAndGlyphs">0.8</text>
<text class="t" transform="matrix(1,0,0,0.91,0,804.54)" x="138.57" y="0" font-family="Liberation Sans" font-size="45.68" textLength="12.42" lengthAdjust="spacingAndGlyphs">(</text><text class="t" transform="matrix(1,0,0,1,0,807.69)" x="155.01" y="0" font-family="Liberation Sans" font-size="45.68" textLength="26.34" lengthAdjust="spacingAndGlyphs">b</text><text class="t" transform="matrix(1,0,0,0.91,0,804.54)" x="184.98" y="0" font-family="Liberation Sans" font-size="45.68" textLength="12.42" lengthAdjust="spacingAndGlyphs">)</text>
<rect x="137.2" y="1597" width="862.8" height="645.6" fill="none" stroke="#000" stroke-width="1.93" stroke-linejoin="miter" stroke-linecap="square"/>
<line x1="128.74" y1="1616.2" x2="137.2" y2="1616.2" stroke="#000" stroke-width="1.93"/>
<text x="56.94" y="1627.5" font-family="Liberation Sans" font-size="30.74" textLength="63.32" lengthAdjust="spacingAndGlyphs">0.10</text>
<line x1="128.74" y1="1735.54" x2="137.2" y2="1735.54" stroke="#000" stroke-width="1.93"/>
<text x="57.01" y="1746.84" font-family="Liberation Sans" font-size="30.74" textLength="63.41" lengthAdjust="spacingAndGlyphs">0.08</text>
<line x1="128.74" y1="1854.88" x2="137.2" y2="1854.88" stroke="#000" stroke-width="1.93"/>
<text x="56.87" y="1866.18" font-family="Liberation Sans" font-size="30.74" textLength="63.57" lengthAdjust="spacingAndGlyphs">0.06</text>
<line x1="128.74" y1="1974.22" x2="137.2" y2="1974.22" stroke="#000" stroke-width="1.93"/>
<text x="56.65" y="1985.52" font-family="Liberation Sans" font-size="30.74" textLength="63.28" lengthAdjust="spacingAndGlyphs">0.04</text>
<line x1="128.74" y1="2093.56" x2="137.2" y2="2093.56" stroke="#000" stroke-width="1.93"/>
<text x="57.97" y="2104.86" font-family="Liberation Sans" font-size="30.74" textLength="62.68" lengthAdjust="spacingAndGlyphs">0.02</text>
<line x1="128.74" y1="2212.9" x2="137.2" y2="2212.9" stroke="#000" stroke-width="1.93"/>
<text x="56.94" y="2224.2" font-family="Liberation Sans" font-size="30.74" textLength="63.32" lengthAdjust="spacingAndGlyphs">0.00</text>
<line x1="147.3" y1="2242.6" x2="147.3" y2="2251.06" stroke="#000" stroke-width="1.93"/>
<text x="138.75" y="2282.1" font-family="Liberation Sans" font-size="30.74" textLength="17.06" lengthAdjust="spacingAndGlyphs">0</text>
<line x1="292.6" y1="2242.6" x2="292.6" y2="2251.06" stroke="#000" stroke-width="1.93"/>
<text x="284.59" y="2282.1" font-family="Liberation Sans" font-size="30.74" textLength="16.04" lengthAdjust="spacingAndGlyphs">5</text>
<line x1="437.9" y1="2242.6" x2="437.9" y2="2251.06" stroke="#000" stroke-width="1.93"/>
<text x="419.59" y="2282.1" font-family="Liberation Sans" font-size="30.74" textLength="35.49" lengthAdjust="spacingAndGlyphs">10</text>
<line x1="583.2" y1="2242.6" x2="583.2" y2="2251.06" stroke="#000" stroke-width="1.93"/>
<text x="565.22" y="2282.1" font-family="Liberation Sans" font-size="30.74" textLength="34.93" lengthAdjust="spacingAndGlyphs">15</text>
<line x1="728.5" y1="2242.6" x2="728.5" y2="2251.06" stroke="#000" stroke-width="1.93"/>
<text x="710.43" y="2282.1" font-family="Liberation Sans" font-size="30.74" textLength="35.81" lengthAdjust="spacingAndGlyphs">20</text>
<line x1="873.8" y1="2242.6" x2="873.8" y2="2251.06" stroke="#000" stroke-width="1.93"/>
<text x="856.05" y="2282.1" font-family="Liberation Sans" font-size="30.74" textLength="35.26" lengthAdjust="spacingAndGlyphs">25</text>
<text class="t" transform="matrix(1,0,0,0.91,0,1579.54)" x="138.57" y="0" font-family="Liberation Sans" font-size="45.68" textLength="12.42" lengthAdjust="spacingAndGlyphs">(</text><text class="t" transform="matrix(1,0,0,1,0,1582.7)" x="154.7" y="0" font-family="Liberation Sans" font-size="45.68" textLength="21.88" lengthAdjust="spacingAndGlyphs">c</text><text class="t" transform="matrix(1,0,0,0.91,0,1579.54)" x="181.29" y="0" font-family="Liberation Sans" font-size="45.68" textLength="12.42" lengthAdjust="spacingAndGlyphs">)</text>
<text x="555.09" y="778.9" font-family="Liberation Sans" font-size="45.24" font-style="italic" textLength="24.95" lengthAdjust="spacingAndGlyphs">β</text>
<text x="555.09" y="1553.5" font-family="Liberation Sans" font-size="45.24" font-style="italic" textLength="24.95" lengthAdjust="spacingAndGlyphs">β</text>
<text x="446.94" y="2325.3" font-family="Liberation Serif" font-size="42" textLength="243.45" lengthAdjust="spacingAndGlyphs">Evolution step</text>
<g transform="rotate(-90)"><text x="-383.37" y="30.5" font-family="Liberation Sans" font-size="44.37" font-style="italic" textLength="26.06" lengthAdjust="spacingAndGlyphs">E</text></g>
<g transform="rotate(-90)"><text x="-1157.15" y="36.6" font-family="Liberation Sans" font-size="44.37" font-style="italic" textLength="23.36" lengthAdjust="spacingAndGlyphs">F</text></g>
<g transform="rotate(-90)"><text x="-1954.33" y="31.8" font-family="Liberation Sans" font-size="44.37" font-style="italic" textLength="20.73" lengthAdjust="spacingAndGlyphs">ε</text></g>
<g transform="rotate(-90)"><text x="-1932.04" y="37.5" font-family="Liberation Sans" font-size="31.06" font-style="italic" textLength="43.85" lengthAdjust="spacingAndGlyphs">alg</text></g>
<rect x="551" y="65" width="431.7" height="162.7" rx="6" ry="6" fill="#fff" fill-opacity="0.8" stroke="#d6d6d6" stroke-width="2.42"/>
<path d="M578.3 82.75L584.45 93L578.3 103.25L572.15 93Z" fill="#1f77b4" stroke="#1f77b4" stroke-width="2.42" stroke-linejoin="miter"/>
<path d="M619.8 82.75L625.95 93L619.8 103.25L613.65 93Z" fill="none" stroke="#1f77b4" stroke-width="2.42" stroke-linejoin="miter"/>
<path d="M578.3 151.35L571.05 136.85L585.55 136.85Z" fill="#2ca02c" stroke="#2ca02c" stroke-width="2.42" stroke-linejoin="miter"/>
<path d="M619.8 151.35L612.55 136.85L627.05 136.85Z" fill="none" stroke="#2ca02c" stroke-width="2.42" stroke-linejoin="miter"/>
<circle cx="578.3" cy="195.2" r="7.25" fill="#d62728" stroke="#d62728" stroke-width="2.42"/>
<circle cx="619.8" cy="195.2" r="7.25" fill="none" stroke="#d62728" stroke-width="2.42"/>
<text x="661.79" y="104.8" font-family="Liberation Sans" font-size="36.89" textLength="79.76" lengthAdjust="spacingAndGlyphs">QITE</text>
<text x="661.82" y="155.9" font-family="Liberation Sans" font-size="36.89" textLength="306.48" lengthAdjust="spacingAndGlyphs">Randomized QITE</text>
<text x="661.86" y="207" font-family="Liberation Sans" font-size="36.89" textLength="278.06" lengthAdjust="spacingAndGlyphs">RL-steered QITE</text>
<rect x="551" y="1287" width="431.7" height="162.7" rx="6" ry="6" fill="#fff" fill-opacity="0.8" stroke="#d6d6d6" stroke-width="2.42"/>
<path d="M577.7 1304.75L583.85 1315L577.7 1325.25L571.55 1315Z" fill="#1f77b4" stroke="#1f77b4" stroke-width="2.42" stroke-linejoin="miter"/>
<path d="M619 1304.75L625.15 1315L619 1325.25L612.85 1315Z" fill="none" stroke="#1f77b4" stroke-width="2.42" stroke-linejoin="miter"/>
<path d="M577.7 1373.35L570.45 1358.85L584.95 1358.85Z" fill="#2ca02c" stroke="#2ca02c" stroke-width="2.42" stroke-linejoin="miter"/>
<path d="M619 1373.35L611.75 1358.85L626.25 1358.85Z" fill="none" stroke="#2ca02c" stroke-width="2.42" stroke-linejoin="miter"/>
<circle cx="577.7" cy="1417.2" r="7.25" fill="#d62728" stroke="#d62728" stroke-width="2.42"/>
<circle cx="619" cy="1417.2" r="7.25" fill="none" stroke="#d62728" stroke-width="2.42"/>
<text x="661.39" y="1326.8" font-family="Liberation Sans" font-size="36.89" textLength="79.76" lengthAdjust="spacingAndGlyphs">QITE</text>
<text x="661.42" y="1377.9" font-family="Liberation Sans" font-size="36.89" textLength="306.48" lengthAdjust="spacingAndGlyphs">Randomized QITE</text>
<text x="661.46" y="1429" font-family="Liberation Sans" font-size="36.89" textLength="278.06" lengthAdjust="spacingAndGlyphs">RL-steered QITE</text>
<rect x="154.9" y="1614" width="433" height="163.2" rx="6" ry="6" fill="#fff" fill-opacity="0.8" stroke="#d6d6d6" stroke-width="2.42"/>
<line x1="168.8" y1="1641.5" x2="238.4" y2="1641.5" stroke="#1f77b4" stroke-width="4.83" stroke-dasharray="4.83,7.97"/>
<line x1="168.8" y1="1692.9" x2="238.4" y2="1692.9" stroke="#2ca02c" stroke-width="4.83" stroke-dasharray="17.88,7.73"/>
<line x1="168.8" y1="1743.8" x2="238.4" y2="1743.8" stroke="#d62728" stroke-width="4.83" stroke-linecap="square"/>
<text x="265.49" y="1653.3" font-family="Liberation Sans" font-size="36.89" textLength="79.76" lengthAdjust="spacingAndGlyphs">QITE</text>
<text x="265.52" y="1704.7" font-family="Liberation Sans" font-size="36.89" textLength="306.48" lengthAdjust="spacingAndGlyphs">Randomized QITE</text>
<text x="265.56" y="1755.6" font-family="Liberation Sans" font-size="36.89" textLength="278.06" lengthAdjust="spacingAndGlyphs">RL-steered QITE</text>
</svg></body></html>
